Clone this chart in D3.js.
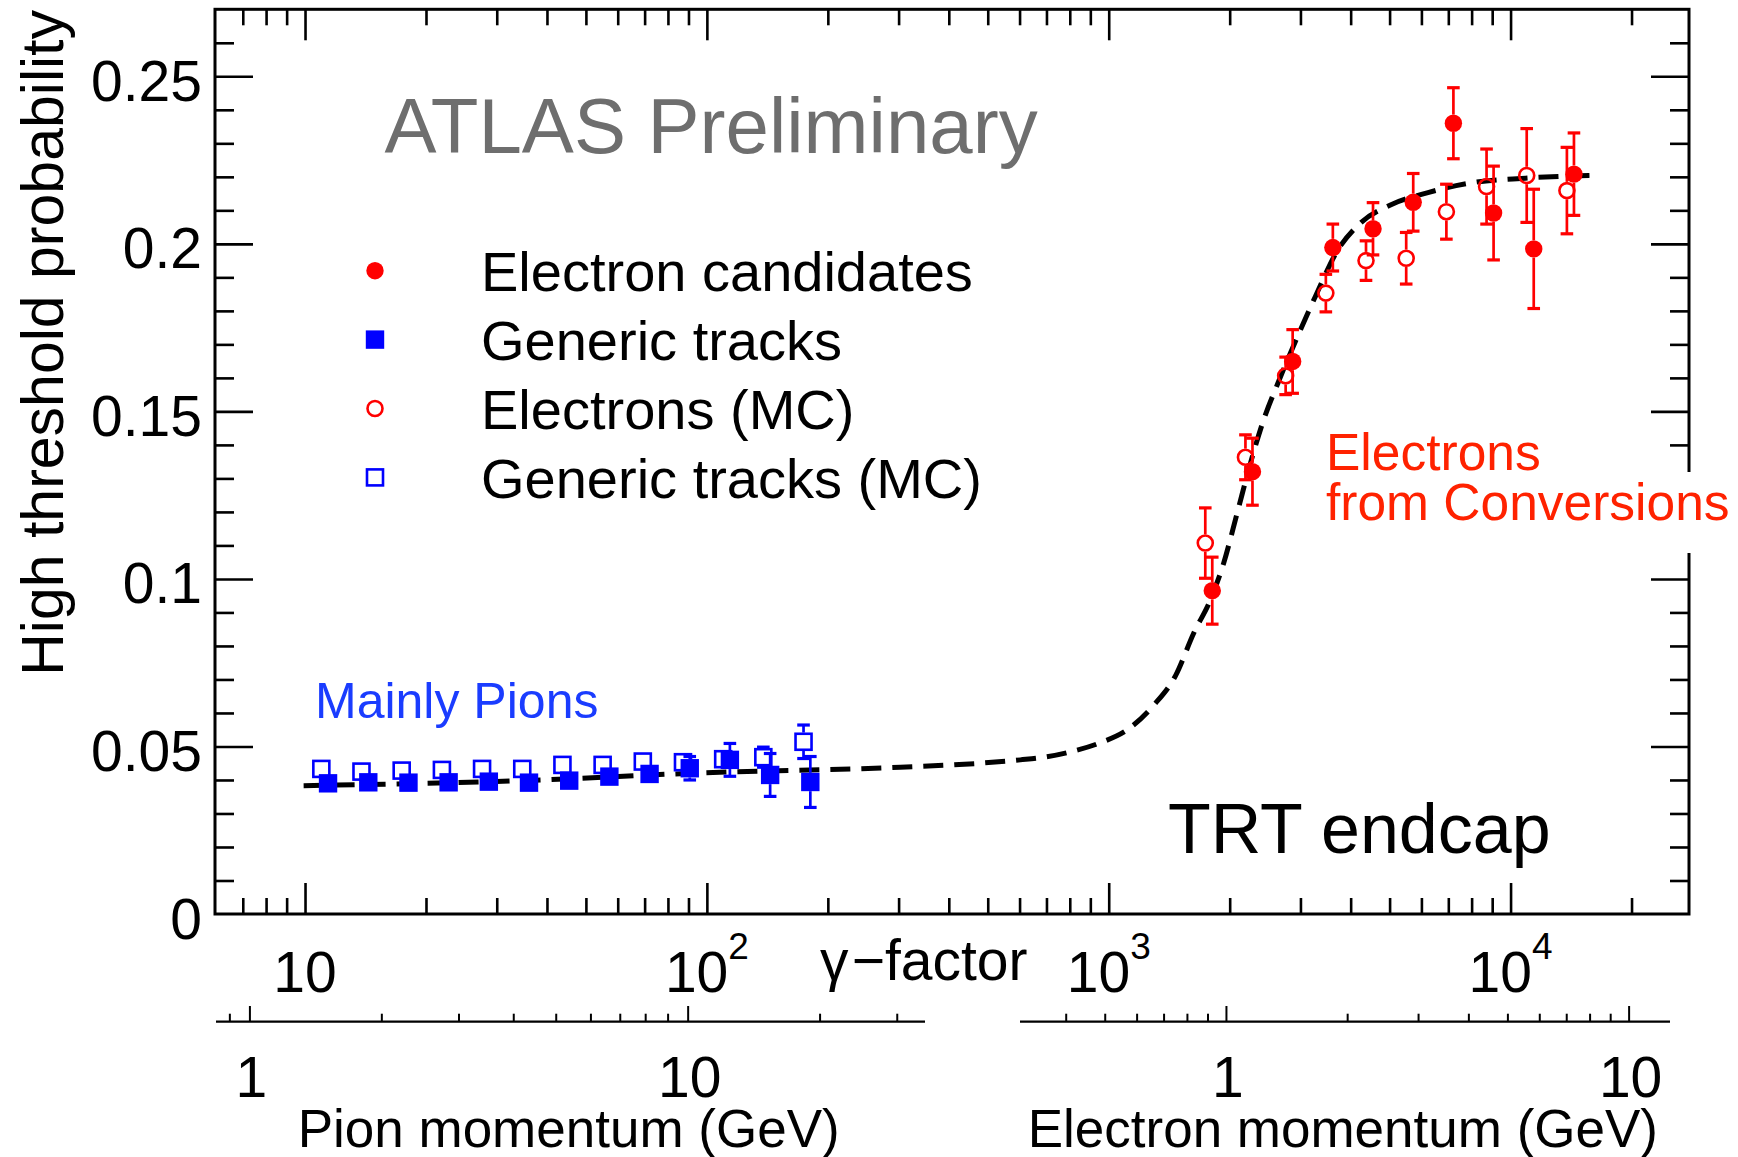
<!DOCTYPE html>
<html><head><meta charset="utf-8">
<script src="https://cdn.jsdelivr.net/npm/d3@7"></script>
<style>
body{margin:0;background:#fff;}
svg{display:block;}
text{font-family:"Liberation Sans",Arial,Helvetica,sans-serif;}
</style>
</head><body>
<svg id="c" width="1738" height="1157"></svg>
<script>
// ---------------- data ----------------
const gammaFilledBlue = [11.41, 14.37, 18.09, 22.77, 28.67, 36.09, 45.44, 57.20, 72.02, 90.66, 114.1, 143.7, 180.9];
const probFilledBlue  = [0.0390, 0.0393, 0.0392, 0.0393, 0.0395, 0.0392, 0.0398, 0.0410, 0.0418, 0.0435, 0.0460, 0.0415, 0.0394];
const errFilledBlue   = [0.0008, 0.0008, 0.0008, 0.0008, 0.0009, 0.0010, 0.0012, 0.0015, 0.0020, 0.0035, 0.0049, 0.0064, 0.0076];

const gammaOpenBlue = [10.98, 13.82, 17.40, 21.91, 27.58, 34.72, 43.71, 55.03, 69.28, 87.21, 109.8, 138.2, 174.0];
const probOpenBlue  = [0.0433, 0.0425, 0.0428, 0.0430, 0.0433, 0.0433, 0.0445, 0.0445, 0.0455, 0.0453, 0.0462, 0.0468, 0.0514];
const errOpenBlue   = [0.0008, 0.0008, 0.0008, 0.0008, 0.0008, 0.0009, 0.0010, 0.0012, 0.0014, 0.0016, 0.0020, 0.0030, 0.0050];

const gammaFilledRed = [1810, 2279, 2869, 3612, 4547, 5725, 7207, 9073, 11420, 14380];
const probFilledRed  = [0.0965, 0.1320, 0.1649, 0.1989, 0.2045, 0.2124, 0.2360, 0.2092, 0.1985, 0.2208];
const errFilledRed   = [0.0100, 0.0100, 0.0095, 0.0070, 0.0078, 0.0086, 0.0106, 0.0140, 0.0178, 0.0123];

const gammaOpenRed = [1739, 2189, 2756, 3470, 4368, 5499, 6923, 8715, 10970, 13810];
const probOpenRed  = [0.1107, 0.1363, 0.1606, 0.1853, 0.1950, 0.1957, 0.2096, 0.2171, 0.2204, 0.2159];
const errOpenRed   = [0.0105, 0.0067, 0.0056, 0.0056, 0.0059, 0.0077, 0.0082, 0.0112, 0.0140, 0.0129];

// fitted curve (dashed)
const fitGamma = [9.92, 32.9, 96.2, 302.8, 479, 602.6, 691, 809.5, 947.5, 1125, 1296, 1469, 1627, 1790, 1932, 2087, 2252, 2430, 2636, 2999, 3268, 3718, 4230, 5024, 6230, 7887, 10890, 16380];
const fitProb  = [0.0383, 0.0397, 0.0421, 0.0438, 0.0450, 0.0460, 0.0468, 0.0485, 0.0510, 0.0554, 0.0624, 0.0713, 0.0838, 0.0937, 0.1047, 0.1196, 0.1345, 0.1475, 0.1584, 0.1743, 0.1843, 0.1982, 0.2062, 0.2116, 0.2153, 0.2181, 0.2196, 0.2205];

// axes / labels
const yTickValues = [0, 0.05, 0.1, 0.15, 0.2, 0.25];
const yTickLabels = ["0", "0.05", "0.1", "0.15", "0.2", "0.25"];
const gammaLabelValues = [10, 100, 1000, 10000];
const gammaLabelBase = ["10", "10", "10", "10"];
const gammaLabelExp  = ["", "2", "3", "4"];
const pionLabelValues = [1, 10];
const pionLabels = ["1", "10"];
const elecLabelValues = [1, 10];
const elecLabels = ["1", "10"];
const legendLabels = ["Electron candidates", "Generic tracks", "Electrons (MC)", "Generic tracks (MC)"];
const legendMarkers = ["filledCircle", "filledSquare", "openCircle", "openSquare"];
const legendColors = ["#ff0000", "#0000ff", "#ff0000", "#0000ff"];

// ---------------- drawing ----------------
const svg = d3.select("#c");
const F = {left: 215, right: 1689, top: 9.3, bottom: 914};

const x = d3.scaleLog().domain([5.97, 27800]).range([F.left, F.right]);
const y = d3.scaleLinear().domain([0, 0.27]).range([F.bottom, F.top]);
const xPion = d3.scaleLog().domain([0.839, 34.8]).range([216, 925]);
const xElec = d3.scaleLog().domain([0.308, 12.67]).range([1020, 1670]);

function logTicks(scale) {
  const [a, b] = scale.domain();
  return scale.ticks().filter(v => v > a * 1.01 && v < b * 0.99);
}
function isDecade(v) { const l = Math.log10(v); return Math.abs(l - Math.round(l)) < 1e-9; }

function drawAxis(g, axisFn, scale, values, size, sw) {
  const ax = axisFn(scale).tickValues(values).tickSize(size).tickFormat("").tickSizeOuter(0);
  const sel = g.append("g").call(ax);
  sel.select(".domain").remove();
  sel.selectAll(".tick line").attr("stroke", "#000").attr("stroke-width", sw);
  return sel;
}

// gamma axis ticks (bottom + top)
const gTicks = logTicks(x);
const gMajor = gTicks.filter(isDecade);
const gMinor = gTicks.filter(v => !isDecade(v));
const gb = svg.append("g").attr("transform", `translate(0,${F.bottom})`);
drawAxis(gb, d3.axisTop, x, gMajor, 31, 2.6);
drawAxis(gb, d3.axisTop, x, gMinor, 16, 2.6);
const gt = svg.append("g").attr("transform", `translate(0,${F.top})`);
drawAxis(gt, d3.axisBottom, x, gMajor, 31, 2.6);
drawAxis(gt, d3.axisBottom, x, gMinor, 16, 2.6);

// y ticks (left + right)
const yMinor = d3.range(0, 28).map(i => i / 100).filter(v => v > 0.0001 && v < 0.2695 && Math.abs(v * 20 - Math.round(v * 20)) > 1e-6);
const gl = svg.append("g").attr("transform", `translate(${F.left},0)`);
drawAxis(gl, d3.axisRight, y, yTickValues.filter(v => v > 0), 38, 2.6);
drawAxis(gl, d3.axisRight, y, yMinor, 19, 2.6);
const gr = svg.append("g").attr("transform", `translate(${F.right},0)`);
drawAxis(gr, d3.axisLeft, y, yTickValues.filter(v => v > 0), 38, 2.6);
drawAxis(gr, d3.axisLeft, y, yMinor, 19, 2.6);

// frame
svg.append("rect").attr("x", F.left).attr("y", F.top)
  .attr("width", F.right - F.left).attr("height", F.bottom - F.top)
  .attr("fill", "none").attr("stroke", "#000").attr("stroke-width", 3);

// secondary momentum axes
function momentumAxis(scale, yPos) {
  const g = svg.append("g").attr("transform", `translate(0,${yPos})`);
  const t = logTicks(scale);
  drawAxis(g, d3.axisTop, scale, t.filter(isDecade), 15.7, 2);
  drawAxis(g, d3.axisTop, scale, t.filter(v => !isDecade(v)), 8, 2);
  const r = scale.range();
  g.append("line").attr("x1", r[0]).attr("x2", r[1]).attr("y1", 0).attr("y2", 0)
    .attr("stroke", "#000").attr("stroke-width", 2.2);
}
momentumAxis(xPion, 1021.7);
momentumAxis(xElec, 1021.7);

// y tick labels
svg.append("g").selectAll("text").data(yTickValues).join("text")
  .attr("x", 202).attr("y", d => y(d) + 24.5)
  .attr("text-anchor", "end").attr("font-size", 57).text((d, i) => yTickLabels[i]);

// y title
svg.append("text").attr("transform", "translate(63,10) rotate(-90)")
  .attr("text-anchor", "end").attr("font-size", 59).text("High threshold probability");

// gamma labels
const gl2 = svg.append("g").selectAll("text").data(gammaLabelValues).join("text")
  .attr("x", d => x(d)).attr("y", 991.7).attr("text-anchor", "middle").attr("font-size", 57);
gl2.append("tspan").text((d, i) => gammaLabelBase[i]);
gl2.append("tspan").attr("dy", -33).attr("font-size", 37).text((d, i) => gammaLabelExp[i]);

svg.append("text").attr("x", 820).attr("y", 980).attr("font-size", 57).text("γ");
svg.append("text").attr("x", 851.7).attr("y", 980).attr("font-size", 57).text("−factor");

// momentum labels
svg.append("g").selectAll("text").data(pionLabelValues).join("text")
  .attr("x", d => xPion(d) + 2).attr("y", 1097).attr("text-anchor", "middle").attr("font-size", 57)
  .text((d, i) => pionLabels[i]);
svg.append("g").selectAll("text").data(elecLabelValues).join("text")
  .attr("x", d => xElec(d) + 2).attr("y", 1097).attr("text-anchor", "middle").attr("font-size", 57)
  .text((d, i) => elecLabels[i]);
svg.append("text").attr("x", 297.7).attr("y", 1147).attr("font-size", 53).text("Pion momentum (GeV)");
svg.append("text").attr("x", 1027.7).attr("y", 1147).attr("font-size", 53).text("Electron momentum (GeV)");

// fitted curve
const line = d3.line().x((d, i) => x(fitGamma[i])).y((d, i) => y(fitProb[i])).curve(d3.curveMonotoneX);
svg.append("path").attr("d", line(fitGamma)).attr("fill", "none")
  .attr("stroke", "#000").attr("stroke-width", 5).attr("stroke-dasharray", "20 11");

// series
const RC = 8.7;   // circle radius
const RS = 9.2;   // square half side
function series(gammas, probs, errs, color, marker) {
  const g = svg.append("g");
  const R = marker.endsWith("Square") ? RS : RC;
  gammas.forEach((gv, i) => {
    const cx = x(gv), cy = y(probs[i]);
    const eUp = y(probs[i] + errs[i]), eDn = y(probs[i] - errs[i]);
    const half = cy - eUp;
    if (half > R) {
      g.append("line").attr("x1", cx).attr("x2", cx).attr("y1", cy - R).attr("y2", eUp)
        .attr("stroke", color).attr("stroke-width", 2.7);
      g.append("line").attr("x1", cx).attr("x2", cx).attr("y1", cy + R).attr("y2", eDn)
        .attr("stroke", color).attr("stroke-width", 2.7);
      [eUp, eDn].forEach(yy => g.append("line").attr("x1", cx - 6.3).attr("x2", cx + 6.3)
        .attr("y1", yy).attr("y2", yy).attr("stroke", color).attr("stroke-width", 3.2));
    }
    drawMarker(g, marker, cx, cy, color);
  });
}
function drawMarker(g, marker, cx, cy, color) {
  if (marker === "filledCircle") {
    g.append("circle").attr("cx", cx).attr("cy", cy).attr("r", RC).attr("fill", color);
  } else if (marker === "openCircle") {
    g.append("circle").attr("cx", cx).attr("cy", cy).attr("r", RC - 1.2).attr("fill", "none")
      .attr("stroke", color).attr("stroke-width", 2.6);
  } else if (marker === "filledSquare") {
    g.append("rect").attr("x", cx - RS).attr("y", cy - RS).attr("width", 2 * RS).attr("height", 2 * RS).attr("fill", color);
  } else {
    g.append("rect").attr("x", cx - RS + 1.2).attr("y", cy - RS + 1.2).attr("width", 2 * RS - 2.4).attr("height", 2 * RS - 2.4)
      .attr("fill", "none").attr("stroke", color).attr("stroke-width", 2.6);
  }
}
series(gammaOpenBlue, probOpenBlue, errOpenBlue, "#0000ff", "openSquare");
series(gammaFilledBlue, probFilledBlue, errFilledBlue, "#0000ff", "filledSquare");
series(gammaOpenRed, probOpenRed, errOpenRed, "#ff0000", "openCircle");
series(gammaFilledRed, probFilledRed, errFilledRed, "#ff0000", "filledCircle");

// legend
const lg = svg.append("g");
legendLabels.forEach((lab, i) => {
  const cy = 270.7 + 68.9 * i;
  drawMarker(lg, legendMarkers[i], 375, cy, legendColors[i]);
  lg.append("text").attr("x", 481).attr("y", cy + 20.5).attr("font-size", 56).text(lab);
});

// annotations
svg.append("text").attr("x", 384.6).attr("y", 153.3).attr("font-size", 78).attr("fill", "#6e6e6e").text("ATLAS Preliminary");
svg.append("text").attr("x", 315).attr("y", 718.3).attr("font-size", 50).attr("fill", "#1a3cff").text("Mainly Pions");
svg.append("text").attr("x", 1168).attr("y", 853.3).attr("font-size", 70).attr("fill", "#000").text("TRT endcap");
svg.append("rect").attr("x", 1320).attr("y", 472).attr("width", 418).attr("height", 81).attr("fill", "#fff");
svg.append("text").attr("x", 1326).attr("y", 470).attr("font-size", 51.5).attr("fill", "#ff2200").text("Electrons");
svg.append("text").attr("x", 1326).attr("y", 520).attr("font-size", 51.5).attr("fill", "#ff2200").text("from Conversions");
</script>
</body></html>
